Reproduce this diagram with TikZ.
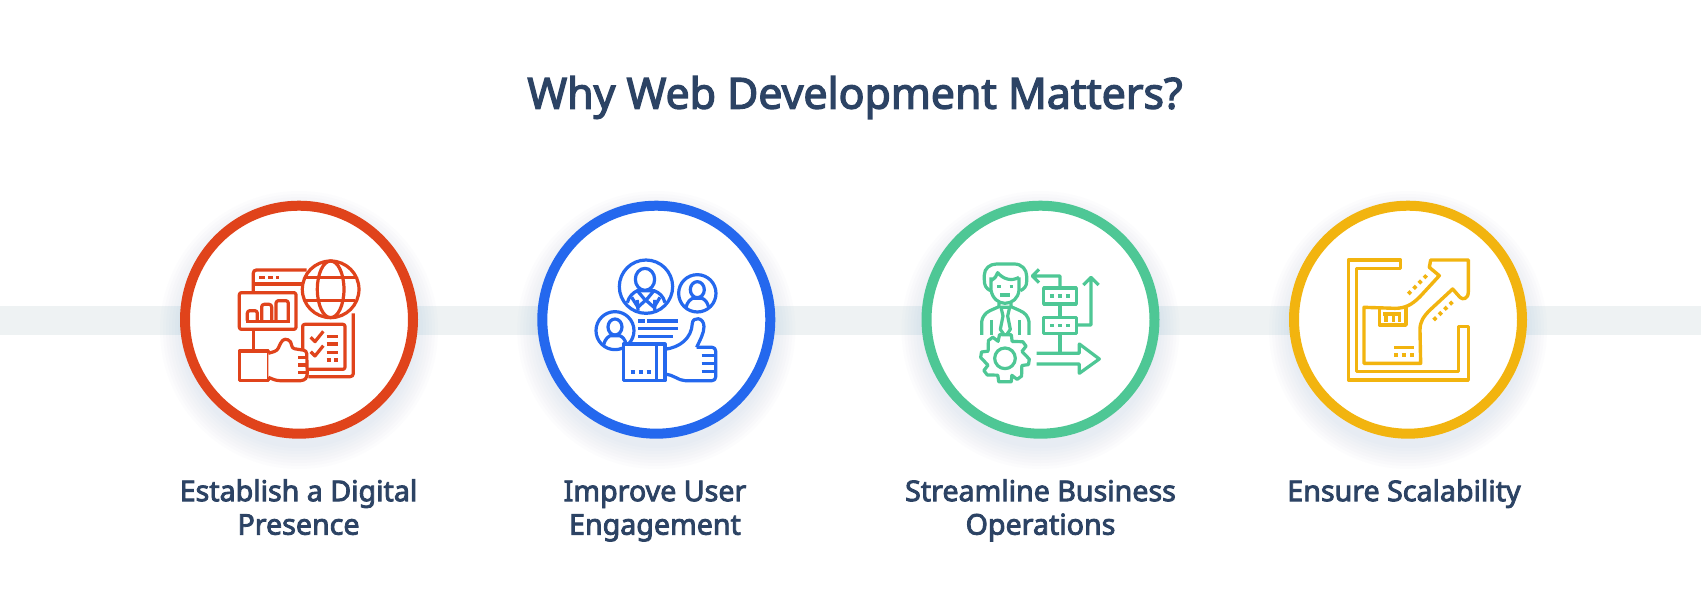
\documentclass[tikz,border=0pt]{standalone}
\usepackage{fontspec}
\setmainfont{Noto Sans}[AutoFakeBold=3]
\definecolor{ink}{HTML}{2C4364}
\definecolor{band}{HTML}{EEF2F3}
\definecolor{cred}{HTML}{E0431B}
\definecolor{cblue}{HTML}{2468EE}
\definecolor{cgreen}{HTML}{4EC795}
\definecolor{cyellow}{HTML}{F2B40F}
\definecolor{halo}{HTML}{5A78B8}
\tikzset{
  ring/.style={circle,draw=#1,line width=10pt,fill=white,minimum size=228pt,inner sep=0pt,outer sep=0pt},
  label/.style={text=ink,font=\bfseries\fontsize{28.6}{33.5}\selectfont,align=center,inner sep=0pt,anchor=north},
  ico/.style={line width=3.2pt,line join=round,line cap=butt},
  dot/.style={line width=3.6pt,line cap=butt}
}
\newcommand{\haloat}[2]{%
  \foreach \r in {139,136,...,118}{\fill[halo,opacity=.014] (#1,#2+10) circle (\r);}}
\begin{document}
\begin{tikzpicture}[x=1pt,y=-1pt]
\useasboundingbox (0,0) rectangle (1701,613);
\fill[white] (0,0) rectangle (1701,613);
\fill[band] (0,306) rectangle (1701,334.5);
\haloat{299}{320}\haloat{656.3}{320}\haloat{1040.5}{320}\haloat{1408}{320}
\node[ring=cred] (c1) at (299,319.7) {};
\node[ring=cblue] (c2) at (656.3,319.7) {};
\node[ring=cgreen] (c3) at (1040.5,319.7) {};
\node[ring=cyellow] (c4) at (1408,319.7) {};
\node[text=ink,font=\bfseries\fontsize{42.8}{48}\selectfont,inner sep=0pt] (title) at (855,97.5) {Why Web Development Matters?};
\node[label] (l1) at (298.5,477.5) {\strut Establish a Digital\\\strut Presence};
\node[label] (l2) at (655,477.5) {\strut Improve User\\\strut Engagement};
\node[label] (l3) at (1040.5,477.5) {\strut Streamline Business\\\strut Operations};
\node[label] (l4) at (1404,477.5) {\strut Ensure Scalability};

% icon 1
\begin{scope}[shift={(170,190)},x=.3333pt,y=-.3333pt,draw=cred,ico]
\draw[rounded corners=3pt] (410,240) -- (250,240) -- (250,305);
\draw (250,420) -- (250,482);
\draw (250,282) -- (402,282);
\draw[rounded corners=3pt] (550,370) -- (550,560) -- (415,560);
\draw[dot] (268,262) -- (285,262) (295,262) -- (310,262) (318,262) -- (328,262);
\draw (482,298) circle (85);
\draw (482,298) ellipse (40 and 85);
\draw (408,262) -- (556,262) (408,332) -- (556,332);
\draw[rounded corners=2pt] (208,308) rectangle (378,418);
\draw[rounded corners=2.5pt] (232,392) -- (232,362) -- (262,362) -- (262,392);
\draw[rounded corners=2.5pt] (275,392) -- (275,343) -- (305,343) -- (305,392);
\draw[rounded corners=2.5pt] (318,392) -- (318,332) -- (355,332) -- (355,392);
\draw (228,394) -- (359,394);
\draw[rounded corners=2pt] (398,403) rectangle (525,538);
\draw (422,442) -- (435,455) -- (460,424) (422,485) -- (435,498) -- (460,467);
\draw (470,440) -- (505,440) (470,462) -- (505,462) (470,487) -- (505,487);
\draw (470,510) -- (482,510) (493,510) -- (505,510);
\draw[fill=white] (208,483) rectangle (295,572);
\draw[fill=white,rounded corners=3pt] (295,490) -- (322,482) -- (332,458) .. controls (345,443) and (365,450) .. (365,475) -- (410,482) -- (412,560) -- (402,572) -- (320,572) -- (295,562);
\draw (385,503) -- (412,503) (385,525) -- (412,525) (385,547) -- (412,547);
\end{scope}

% icon 2
\begin{scope}[shift={(530,190)},x=.3333pt,y=-.3333pt,draw=cblue,ico]
\draw (348,290) circle (80);
\draw (345,268) ellipse (29 and 33);
\draw (292,338) .. controls (297,318) and (310,308) .. (322,302) -- (372,302) .. controls (388,308) and (400,318) .. (405,338);
\draw (322,302) -- (347,332) -- (372,302);
\draw (305,322) -- (324,352) -- (347,330) -- (372,352) -- (390,322);
\draw (322,330) -- (324,362) (374,330) -- (374,362);
\draw (502,310) circle (56);
\draw (502,299) ellipse (21 and 24);
\draw (468,352) .. controls (472,335) and (482,328) .. (488,325) -- (516,325) .. controls (524,328) and (532,335) .. (536,352);
\draw (255,422) circle (57);
\draw (255,411) ellipse (21 and 24);
\draw (221,464) .. controls (225,447) and (235,440) .. (241,437) -- (269,437) .. controls (277,440) and (285,447) .. (289,464);
\draw (325,393) -- (345,393) (352,393) -- (443,393) (325,416) -- (443,416) (325,439) -- (430,439);
\draw[fill=white] (280,462) rectangle (405,572);
\draw (380,462) -- (380,572);
\draw[dot] (302,546) -- (315,546) (327,546) -- (340,546) (350,546) -- (362,546);
\draw (405,478) .. controls (450,472) and (485,445) .. (487,400) .. controls (488,380) and (522,380) .. (522,410) .. controls (522,430) and (510,450) .. (500,472);
\draw[rounded corners=3.5pt] (500,472) -- (557,472) -- (557,572) -- (465,572);
\draw (465,572) .. controls (445,572) and (430,553) .. (405,553);
\draw (515,497) -- (557,497) (515,520) -- (557,520) (515,545) -- (557,545);
\end{scope}

% icon 3
\begin{scope}[shift={(915,190)},x=.3333pt,y=-.3333pt,draw=cgreen,ico]
\draw (226,302) .. controls (212,295) and (208,285) .. (208,270) -- (208,255) .. controls (208,235) and (225,222) .. (245,222) -- (298,222) .. controls (320,222) and (335,238) .. (335,258) -- (335,275) .. controls (335,288) and (328,297) .. (316,302);
\draw (228,262) -- (228,300) .. controls (232,325) and (250,340) .. (270,340) .. controls (292,340) and (310,325) .. (312,300) -- (312,262);
\draw (228,272) .. controls (240,265) and (245,258) .. (248,248) .. controls (265,268) and (290,275) .. (312,262);
\draw[dot] (247,290) -- (258,290) (284,290) -- (295,290);
\draw[line width=3.8pt] (256,315) -- (284,315);
\draw (200,435) -- (200,395) .. controls (202,380) and (212,368) .. (225,362) -- (252,350) -- (252,338);
\draw (288,338) -- (288,350) -- (315,362) .. controls (330,368) and (340,380) .. (342,395) -- (342,435);
\draw (230,390) -- (230,435) (314,390) -- (314,435);
\draw (258,352) -- (284,352) -- (278,378) -- (286,418) -- (271,440) -- (256,418) -- (264,378) -- cycle;
\begin{scope}[shift={(270,505)}]
\draw[fill=white] (75:73) -- (105:73) -- (113:55) -- (137:73)-- (150:73) -- (158:55) -- (182:73) -- (195:73) -- (203:55) -- (227:73) -- (240:73) -- (248:55) -- (257:73) -- (285:73) -- (293:55) -- (317:73) -- (330:73) -- (338:55) -- (2:73) -- (15:73) -- (23:55) -- (47:73) -- (60:73) -- (68:55) -- cycle;
\draw (0,0) circle (31);
\end{scope}
\draw (365,490) -- (493,490) -- (493,462) -- (553,507) -- (493,550) -- (493,522) -- (365,522);
\draw (386,294) rectangle (484,342) (386,382) rectangle (484,430);
\draw[dot] (405,318) -- (417,318) (429,318) -- (441,318) (453,318) -- (465,318) (405,406) -- (417,406) (429,406) -- (441,406) (453,406) -- (465,406);
\draw (435,342) -- (435,382) (435,430) -- (435,490);
\draw (435,294) -- (435,258) -- (354,258) (372,238) -- (352,258) -- (372,278);
\draw (484,405) -- (528,405) -- (528,265) (505,285) -- (528,262) -- (551,285);
\end{scope}

% icon 4
\begin{scope}[shift={(1280,190)},x=.3333pt,y=-.3333pt,draw=cyellow,ico,line width=3.4pt]
\draw (362,210) -- (205,210) -- (205,570) -- (565,570) -- (565,410) -- (535,410) -- (535,545) -- (230,545) -- (230,235) -- (362,235) -- cycle;
\draw (252,352) -- (345,355) .. controls (375,355) and (395,345) .. (420,320) -- (478,257) -- (448,232) -- (452,210) -- (565,210) -- (565,305) .. controls (565,328) and (548,330) .. (540,322) -- (518,297) -- (450,360) .. controls (430,380) and (420,395) .. (420,420) -- (422,520) -- (252,520) -- cycle;
\draw (298,356) -- (298,405) -- (378,405) -- (378,352);
\draw (318,372) -- (318,397) (340,372) -- (340,397) (358,372) -- (358,397) (310,372) -- (362,372);
\draw (342,472) -- (402,472);
\draw[dot] (342,495) -- (355,495) (365,495) -- (378,495) (390,495) -- (402,495);
\draw[line width=3.8pt,dash pattern=on 3.6pt off 3.9pt] (385,312) -- (440,256);
\draw[line width=3.8pt,dash pattern=on 3.6pt off 3.9pt] (461,390) -- (520,333);
\end{scope}
\end{tikzpicture}
\end{document}
